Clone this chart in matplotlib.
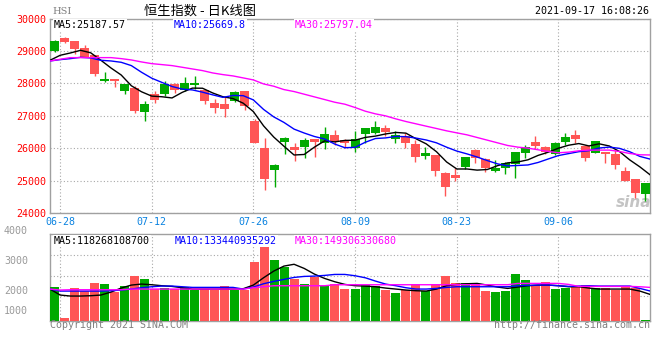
import matplotlib
matplotlib.use('Agg')
import matplotlib.pyplot as plt
import matplotlib.transforms as mtransforms
import numpy as np

plt.rcParams['font.family'] = ['DejaVu Sans Mono']

# ---------------- data ----------------
open_ = [29000, 29400, 29297, 29102, 28867, 28067, 28149, 27770, 27872, 27124,
         27668, 27668, 27975, 27790, 27955, 27790, 27401, 27380, 27463, 27760,
         26837, 26017, 25330, 26202, 26048, 26048, 26284, 26150, 26407, 26253,
         25997, 26438, 26479, 26633, 26284, 26376, 26130, 25771, 25792, 25249,
         25177, 25412, 25946, 25669, 25310, 25382, 25515, 25864, 26181, 26028,
         25822, 26202, 26407, 26069, 25864, 25894, 25822, 25300, 25054, 24582]
high = [29330, 29430, 29300, 29174, 28880, 28354, 28150, 27980, 27913, 27463,
        27760, 28077, 28016, 28200, 28221, 27811, 27534, 27586, 27770, 27770,
        26899, 26325, 25515, 26356, 26171, 26325, 26290, 26663, 26561, 26284,
        26530, 26620, 26837, 26715, 26530, 26458, 26253, 26028, 25800, 25260,
        25382, 25745, 25976, 25710, 25638, 25566, 25880, 26099, 26376, 26069,
        26181, 26479, 26561, 26099, 26230, 25900, 25946, 25433, 25060, 24925]
low = [28970, 29246, 28918, 28800, 28231, 28046, 27893, 27688, 27094, 26848,
       27401, 27616, 27709, 27780, 27842, 27360, 27094, 26980, 27432, 27196,
       26160, 24733, 24818, 25822, 25617, 25710, 25740, 25976, 26099, 26017,
       25894, 26150, 26438, 26376, 26171, 26017, 25587, 25669, 25156, 24541,
       24990, 25351, 25535, 25259, 25279, 25197, 25095, 25689, 25966, 25822,
       25792, 26099, 26150, 25617, 25860, 25556, 25361, 24980, 24480, 24377]
close = [29297, 29277, 29051, 28815, 28282, 28149, 28077, 27975, 27155, 27360,
         27483, 27975, 27790, 28016, 28016, 27463, 27247, 27206, 27739, 27299,
         26171, 25054, 25484, 26325, 25946, 26253, 26181, 26438, 26181, 26171,
         26284, 26612, 26643, 26510, 26407, 26171, 25740, 25864, 25310, 24818,
         25095, 25740, 25689, 25402, 25402, 25535, 25874, 26028, 26079, 25894,
         26150, 26335, 26284, 25710, 26222, 25812, 25484, 25002, 24634, 24920]

ma5 = [28713, 28867, 28938, 29020, 28944, 28715, 28475, 28260, 27928, 27743,
       27610, 27590, 27553, 27725, 27856, 27852, 27706, 27590, 27534, 27391,
       27132, 26694, 26349, 26067, 25796, 25812, 26038, 26229, 26200, 26245,
       26251, 26337, 26378, 26444, 26491, 26469, 26294, 26138, 25898, 25581,
       25365, 25365, 25330, 25349, 25466, 25554, 25580, 25648, 25784, 25882,
       26005, 26097, 26148, 26075, 26140, 26073, 25902, 25646, 25431, 25188]
ma10 = [28692, 28733, 28764, 28805, 28785, 28713, 28692, 28651, 28549, 28344,
        28162, 28032, 27906, 27826, 27800, 27731, 27648, 27571, 27630, 27623,
        27492, 27200, 26970, 26800, 26593, 26472, 26366, 26289, 26133, 26020,
        26032, 26188, 26303, 26322, 26368, 26360, 26316, 26258, 26171, 26036,
        25917, 25830, 25734, 25624, 25523, 25460, 25473, 25489, 25566, 25674,
        25779, 25839, 25898, 25929, 26011, 26039, 26000, 25897, 25753, 25670]
ma30 = [28692, 28744, 28795, 28795, 28795, 28795, 28795, 28764, 28723, 28662,
        28610, 28580, 28549, 28498, 28446, 28395, 28323, 28272, 28231, 28170,
        28108, 27985, 27914, 27811, 27750, 27668, 27586, 27504, 27421, 27360,
        27258, 27145, 27063, 27001, 26909, 26827, 26755, 26683, 26612, 26540,
        26478, 26417, 26335, 26253, 26171, 26089, 26038, 26007, 25956, 25904,
        25864, 25884, 25925, 25946, 25946, 25946, 25904, 25843, 25802, 25797]

# turnover (100 million HKD)
volume = [1522, 118, 1478, 1330, 1700, 1655, 1301, 1552, 1995, 1877,
          1419, 1448, 1419, 1522, 1375, 1419, 1360, 1567, 1360, 1360,
          2631, 3370, 2705, 2409, 1877, 1655, 1966, 1567, 1626, 1419,
          1419, 1596, 1552, 1375, 1256, 1375, 1626, 1330, 1626, 1995,
          1685, 1685, 1655, 1330, 1301, 1330, 2084, 1818, 1596, 1729,
          1434, 1478, 1567, 1596, 1448, 1448, 1375, 1552, 1478, 44]
vol_ma5 = [1419, 1153, 1109, 1109, 1123, 1153, 1286, 1463, 1596, 1641,
           1611, 1567, 1537, 1478, 1419, 1419, 1419, 1419, 1419, 1434,
           1596, 1921, 2217, 2439, 2520, 2335, 2084, 1892, 1744, 1626,
           1567, 1552, 1522, 1463, 1419, 1375, 1345, 1330, 1419, 1567,
           1626, 1655, 1670, 1596, 1508, 1448, 1508, 1567, 1596, 1596,
           1567, 1522, 1522, 1463, 1419, 1419, 1419, 1419, 1330, 1183]
vol_ma10 = [1419, 1330, 1330, 1330, 1330, 1330, 1345, 1375, 1419, 1478,
            1522, 1552, 1552, 1522, 1493, 1493, 1493, 1493, 1493, 1419,
            1508, 1655, 1759, 1848, 1936, 1981, 1995, 2025, 2069, 2069,
            2010, 1921, 1774, 1641, 1567, 1478, 1419, 1419, 1448, 1493,
            1522, 1522, 1522, 1522, 1522, 1522, 1567, 1581, 1596, 1596,
            1567, 1537, 1552, 1567, 1552, 1552, 1552, 1552, 1448, 1334]
vol_ma30 = [1419, 1375, 1389, 1389, 1389, 1389, 1389, 1389, 1419, 1419,
            1419, 1419, 1419, 1419, 1419, 1419, 1419, 1419, 1419, 1419,
            1478, 1522, 1567, 1567, 1567, 1567, 1567, 1567, 1611, 1611,
            1611, 1611, 1611, 1611, 1611, 1611, 1611, 1611, 1611, 1611,
            1611, 1611, 1611, 1611, 1611, 1611, 1670, 1670, 1670, 1670,
            1670, 1626, 1537, 1537, 1537, 1537, 1537, 1537, 1522, 1493]

tick_idx = [1, 10, 20, 30, 40, 50]
tick_labels = ['06-28', '07-12', '07-26', '08-09', '08-23', '09-06']
price_ticks = [24000, 25000, 26000, 27000, 28000, 29000, 30000]
vol_grid = [1090, 2010, 2930]
vol_label_pos = [4010, 2680, 1345, 458]
vol_labels = ['4000', '3000', '2000', '1000']

ma_texts = ['MA5:25187.57', 'MA10:25669.8', 'MA30:25797.04']
vol_ma_texts = ['MA5:118268108700', 'MA10:133440935292', 'MA30:149306330680']

# ---------------- style ----------------
RED = '#ff5555'
GREEN = '#00aa00'
MA_COLORS = ['black', '#0000ff', '#ff00ff']
GRID = '#a8a8a8'
SPINE = '#a0a0a0'
FS = 7.2

n = len(close)
idx = np.arange(n)
o = np.array(open_, float)
c = np.array(close, float)
up = c >= o
colors = np.where(up, GREEN, RED)

W, H = 660, 360
fig = plt.figure(figsize=(W / 100, H / 100), dpi=100)


def frac(x0, y_top, x1, y_bot):
    return [x0 / W, 1 - y_bot / H, (x1 - x0) / W, (y_bot - y_top) / H]


def base_axes(rect, ylim):
    a = fig.add_axes(rect)
    a.set_xlim(0, n - 1)
    a.set_ylim(*ylim)
    a.set_xticks(tick_idx)
    a.grid(True, color=GRID, lw=0.8, ls=(0, (1, 2)))
    a.set_axisbelow(True)
    for s in a.spines.values():
        s.set_color(SPINE)
        s.set_linewidth(1.0)
    a.tick_params(length=0)
    return a


# ---------------- price panel ----------------
ax = base_axes(frac(50, 18.5, 650, 213.3), (24000, 30000))
ax.set_yticks(price_ticks)
ax.set_yticklabels([str(t) for t in price_ticks], color='#ff0000', fontsize=FS)
ax.set_xticklabels(tick_labels, color='#0a82e0', fontsize=FS)
ax.tick_params(axis='y', pad=2.5)
ax.tick_params(axis='x', pad=3)

# watermark
ax.text(0.972, 0.055, 'sina', transform=ax.transAxes, fontsize=11,
        family='DejaVu Sans', style='italic', weight='bold',
        color='#c4c4c4', ha='center', va='center', zorder=0)

axc = ax.twiny()
axc.set_xlim(-0.45, n - 0.55)
axc.axis('off')
bottoms = np.minimum(o, c)
heights = np.maximum(np.abs(c - o), 12)
axc.bar(idx, heights, bottom=bottoms, width=0.9, color=colors, lw=0)
axc.vlines(idx, low, high, colors=colors, lw=1.0)

axl = ax.twiny()
axl.set_xlim(0, n - 1)
axl.axis('off')
for series, col in zip([ma5, ma10, ma30], MA_COLORS):
    axl.plot(idx, series, color=col, lw=1.0)

for txt, col, xp in zip(ma_texts, MA_COLORS, [4, 124, 245]):
    axl.text(xp / 600, 0.993, txt, transform=axl.transAxes, color=col,
             fontsize=FS, ha='left', va='top',
             bbox=dict(boxstyle='square,pad=0.1', fc='white', ec='none'))

# ---------------- volume panel ----------------
vax = base_axes(frac(50, 234.5, 650, 321), (0, 3843))
vax.set_yticks(vol_grid)
vax.set_yticklabels([])
vax.set_xticklabels([])
tr = mtransforms.blended_transform_factory(vax.transAxes, vax.transData)
for pos, lab in zip(vol_label_pos, vol_labels):
    vax.text(-22 / 600, pos, lab, transform=tr, color='#9a9a9a', fontsize=FS,
             ha='right', va='center', clip_on=False)

vbx = vax.twiny()
vbx.set_xlim(-0.45, n - 0.55)
vbx.axis('off')
vbx.bar(idx, volume, width=0.9, color=colors, lw=0)

vlx = vax.twiny()
vlx.set_xlim(0, n - 1)
vlx.axis('off')
for series, col in zip([vol_ma5, vol_ma10, vol_ma30], MA_COLORS):
    vlx.plot(idx, series, color=col, lw=1.0)

for txt, col, xp in zip(vol_ma_texts, MA_COLORS, [4, 125, 245]):
    vlx.text(xp / 600, 0.985, txt, transform=vlx.transAxes, color=col,
             fontsize=FS, ha='left', va='top',
             bbox=dict(boxstyle='square,pad=0.1', fc='white', ec='none'))

# ---------------- header / footer ----------------
fig.text(200 / W, 1 - 11 / H, '恒生指数 - 日K线图', fontsize=9.5,
         family=['Noto Sans CJK SC', 'DejaVu Sans'], ha='center', va='center',
         color='black')
fig.text(52 / W, 1 - 11 / H, 'HSI', fontsize=7, family='DejaVu Serif',
         color='#808080', ha='left', va='center')
fig.text(649 / W, 1 - 11.5 / H, '2021-09-17 16:08:26', fontsize=FS,
         color='black', ha='right', va='center')
fig.text(50 / W, 1 - 325.5 / H, 'Copyright 2021 SINA.COM', fontsize=FS,
         color='#808080', ha='left', va='center')
fig.text(650 / W, 1 - 325.5 / H, 'http://finance.sina.com.cn', fontsize=FS,
         color='#808080', ha='right', va='center')

fig.savefig('out.png', dpi=100)
